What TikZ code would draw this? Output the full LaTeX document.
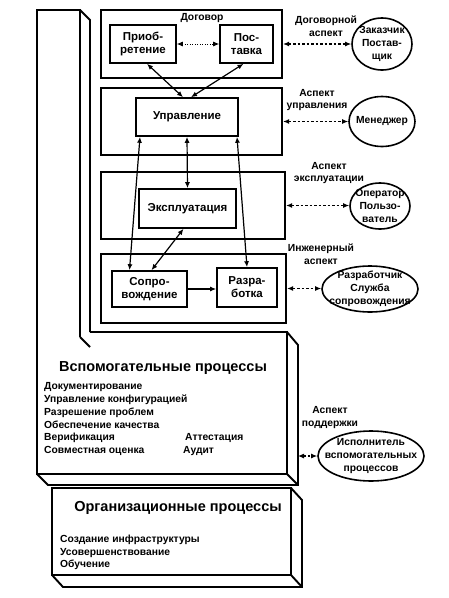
\documentclass[tikz,border=0pt]{standalone}
\usepackage{fontspec}
\setmainfont{Liberation Sans}
\usetikzlibrary{arrows.meta,shapes.geometric,calc}
\newcommand{\myboxfont}{\bfseries\fontsize{11.5}{13}\selectfont}
\newcommand{\mysmallfont}{\bfseries\fontsize{10.3}{12.8}\selectfont}
\newcommand{\mytitlefont}{\bfseries\fontsize{14.5}{16}\selectfont}
\begin{document}
\begin{tikzpicture}[x=1pt,y=-1pt,
  outerbox/.style={draw, line width=2.2pt, inner sep=0pt},
  innerbox/.style={draw, line width=1.6pt, inner sep=0pt, align=center, font=\myboxfont},
  smalltxt/.style={inner sep=0pt, align=center, font=\mysmallfont},
  listtxt/.style={inner sep=0pt, align=left, anchor=base west, font=\mysmallfont},
  titletxt/.style={inner sep=0pt, font=\mytitlefont},
  aspell/.style={draw, ellipse, line width=1.6pt, inner sep=0pt},
  slab/.style={line width=1.9pt},
  tip/.tip={Latex[length=6pt,width=5pt]},
  darr/.style={line width=1.2pt, tip-tip},
  sarr/.style={line width=1.2pt, -tip},
  dasharr/.style={line width=1.1pt, tip-tip, dash pattern=on 2.5pt off 2pt},
  dotarr/.style={line width=0.9pt, tip-tip, dash pattern=on 1pt off 1.5pt}
]
\useasboundingbox (0,0) rectangle (449,598);

% ---- L-shaped slab: supporting processes ----
\draw[slab] (80,337) -- (80,10) -- (37,10) -- (37,474) -- (287,474) -- (287,332) -- (90,332);
\draw[slab] (80,10) -- (90,20) -- (90,332);
\draw[slab] (80,337) -- (90,347);
\draw[slab] (37,474) -- (48,485) -- (298,485) -- (298,345) -- (287,332);
\draw[slab] (287,474) -- (298,485);
\coordinate (vside) at (298,456);

% ---- organisational slab ----
\draw[slab] (52,488) rectangle (291,575);
\draw[slab] (291,488) -- (302,500) -- (302,587) -- (63,587) -- (52,575);
\draw[slab] (291,575) -- (302,587);

% ---- outer aspect boxes ----
\node[outerbox, minimum width=181pt, minimum height=68pt] (b1) at (191.5,44) {};
\node[outerbox, minimum width=181pt, minimum height=67pt] (b2) at (191.5,121.5) {};
\node[outerbox, minimum width=184pt, minimum height=67pt] (b3) at (193,205.5) {};
\node[outerbox, minimum width=185pt, minimum height=69pt] (b4) at (193.5,288.5) {};

\node[smalltxt] (dog) at (202,18) {Договор};

% ---- inner process boxes ----
\node[innerbox, minimum width=66pt, minimum height=38pt] (prio) at (143,44) {Приоб-\\ретение};
\node[innerbox, minimum width=53pt, minimum height=38pt] (post) at (246.5,44) {Пос-\\тавка};
\node[innerbox, minimum width=102pt, minimum height=38pt] (upr) at (187,117) {Управление};
\node[innerbox, minimum width=97pt, minimum height=39pt] (expl) at (187.5,208.5) {Эксплуатация};
\node[innerbox, minimum width=75pt, minimum height=36pt] (sopr) at (149.5,289) {Сопро-\\вождение};
\node[innerbox, minimum width=60pt, minimum height=39pt] (razr) at (247,287.5) {Разра-\\ботка};

% ---- inner connectors ----
\draw[dotarr] (prio.east) -- (post.west);
\draw[darr] ([xshift=4pt]prio.south) -- ([xshift=-4pt]upr.north);
\draw[darr] ([xshift=-3pt]post.south) -- ([xshift=4pt]upr.north);
\draw[darr] ([xshift=-47pt]upr.south) -- ([xshift=-20pt]sopr.north);
\draw[darr] ([xshift=0pt]upr.south) -- ([xshift=0pt]expl.north);
\draw[darr] ([xshift=50pt]upr.south) -- ([xshift=0pt]razr.north);
\draw[darr] ([xshift=-4pt]expl.south) -- ([xshift=2pt]sopr.north);
\draw[sarr] (sopr.east) -- (sopr.east -| razr.west);

% ---- role ellipses ----
\node[aspell, minimum width=60pt, minimum height=52pt] (e1) at (382,44) {};
\node[smalltxt] (e1t) at (e1) {Заказчик\\Постав-\\щик};
\node[aspell, minimum width=66pt, minimum height=50pt] (e2) at (382,121.5) {};
\node[smalltxt] (e2t) at (e2) {Менеджер};
\node[aspell, minimum width=60pt, minimum height=46pt] (e3) at (380,206) {};
\node[smalltxt] (e3t) at (e3) {Оператор\\Пользо-\\ватель};
\node[aspell, minimum width=96pt, minimum height=46pt] (e4) at (370,289) {};
\node[smalltxt] (e4t) at (e4) {Разработчик\\Служба\\сопровождения};
\node[aspell, minimum width=106pt, minimum height=50pt] (e5) at (371,456) {};
\node[smalltxt] (e5t) at (e5) {Исполнитель\\вспомогательных\\процессов};

% ---- aspect labels ----
\node[smalltxt] (a1) at (326,26) {Договорной\\аспект};
\node[smalltxt] (a2) at (317,100) {Аспект\\управления};
\node[smalltxt] (a3) at (329,173) {Аспект\\эксплуатации};
\node[smalltxt] (a4) at (321,254) {Инженерный\\аспект};
\node[smalltxt] (a5) at (330,417.5) {Аспект\\поддержки};

% ---- aspect connectors ----
\draw[dasharr] (b1.east) -- (e1.west);
\draw[dasharr] (b2.east) -- (e2.west);
\draw[dasharr] (b3.east) -- (b3.east -| e3.west);
\draw[dasharr] (b4.east) -- (b4.east -| e4.west);
\draw[dasharr] (vside) -- (e5.west);

% ---- supporting processes text ----
\node[titletxt] (vtitle) at (163,368) {Вспомогательные процессы};
\node[listtxt] (v1) at (44,389.6) {Документирование};
\node[listtxt] (v2) at (44,402.4) {Управление конфигурацией};
\node[listtxt] (v3) at (44,415.2) {Разрешение проблем};
\node[listtxt] (v4) at (44,428) {Обеспечение качества};
\node[listtxt] (v5) at (44,440.8) {Верификация};
\node[listtxt] (v6) at (44,453.6) {Совместная оценка};
\node[listtxt] (v7) at (185,440.8) {Аттестация};
\node[listtxt] (v8) at (183,453.6) {Аудит};

% ---- organisational processes text ----
\node[titletxt] (otitle) at (178,508) {Организационные процессы};
\node[listtxt] (o1) at (60,542.6) {Создание инфраструктуры};
\node[listtxt] (o2) at (60,555.1) {Усовершенствование};
\node[listtxt] (o3) at (60,567.6) {Обучение};
\end{tikzpicture}
\end{document}
